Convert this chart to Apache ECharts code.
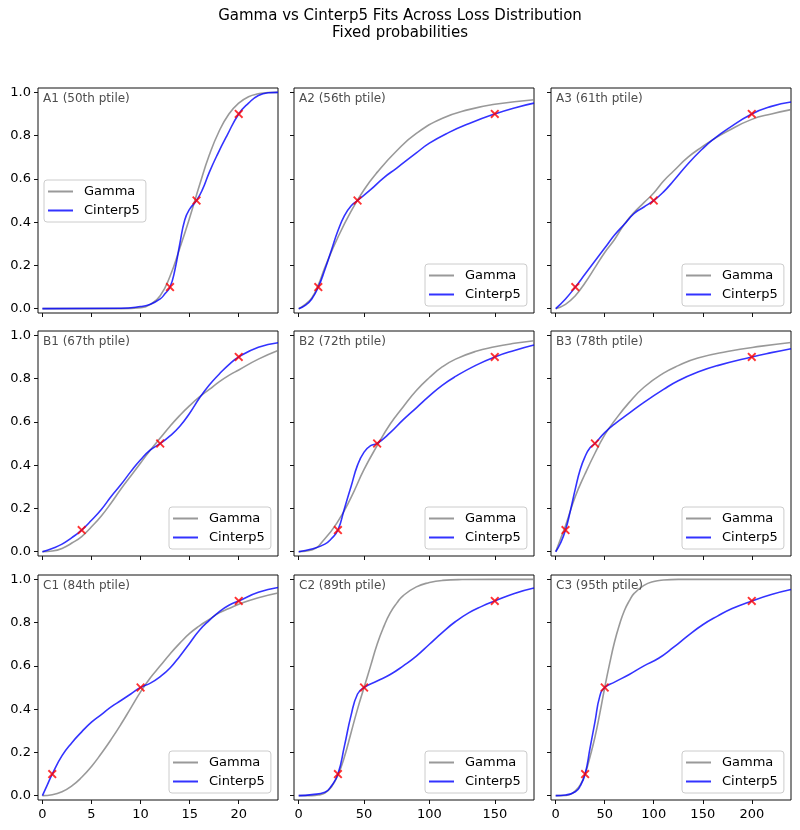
<!DOCTYPE html>
<html><head><meta charset="utf-8">
<script src="https://cdn.jsdelivr.net/npm/echarts@6/dist/echarts.min.js"></script>
<style>html,body{margin:0;padding:0;background:#fff}#c{width:800px;height:830px}</style>
</head><body><div id="c"></div>
<script>
// ---------- data ----------
const titleLines = ['Gamma vs Cinterp5 Fits Across Loss Distribution', 'Fixed probabilities'];
const panelLabels = ['A1 (50th ptile)','A2 (56th ptile)','A3 (61th ptile)',
                     'B1 (67th ptile)','B2 (72th ptile)','B3 (78th ptile)',
                     'C1 (84th ptile)','C2 (89th ptile)','C3 (95th ptile)'];
const seriesNames = ['Gamma', 'Cinterp5'];
const targetProbs = [0.1, 0.5, 0.9];

const markersA1 = [13, 15.7, 20];
const markersA2 = [15, 45, 150];
const markersA3 = [20, 100, 200];
const markersB1 = [4, 12, 20];
const markersB2 = [30, 60, 150];
const markersB3 = [10, 40, 200];
const markersC1 = [1, 10, 20];
const markersC2 = [30, 50, 150];
const markersC3 = [30, 50, 200];

const gammaA1 = [[0,0],[8,0],[10,0.005],[11,0.02],[12,0.06],[13,0.15],[14,0.28],[15,0.42],[16,0.57],[17,0.71],[18,0.82],[19,0.9],[20,0.95],[21,0.98],[22,0.993],[23,0.999],[24,1]];
const cinterpA1 = [[0,0],[8,0.002],[10,0.01],[11,0.02],[12,0.045],[12.5,0.07],[13,0.1],[13.5,0.18],[14,0.3],[14.5,0.41],[15,0.46],[15.7,0.5],[16.3,0.55],[17,0.63],[17.8,0.71],[18.8,0.8],[20,0.9],[21,0.95],[22,0.985],[23,0.998],[24,1]];

const gammaA2 = [[0,0],[5,0.02],[10,0.05],[15,0.11],[20,0.19],[30,0.33],[40,0.45],[50,0.55],[60,0.63],[75,0.73],[90,0.81],[110,0.88],[130,0.92],[150,0.945],[180,0.966]];
const cinterpA2 = [[0,0],[5,0.015],[10,0.045],[15,0.1],[20,0.18],[25,0.27],[30,0.36],[35,0.43],[40,0.475],[45,0.5],[55,0.55],[65,0.605],[75,0.65],[90,0.72],[100,0.765],[115,0.815],[130,0.855],[150,0.9],[165,0.928],[180,0.95]];

const gammaA3 = [[0,0],[10,0.02],[20,0.06],[30,0.12],[40,0.19],[50,0.26],[60,0.32],[70,0.39],[80,0.445],[90,0.49],[100,0.535],[110,0.59],[120,0.635],[135,0.7],[150,0.75],[160,0.78],[175,0.82],[200,0.875],[220,0.9],[240,0.92]];
const cinterpA3 = [[0,0],[10,0.045],[20,0.1],[30,0.16],[40,0.22],[50,0.28],[60,0.34],[70,0.39],[80,0.44],[90,0.47],[100,0.5],[110,0.54],[120,0.59],[135,0.67],[150,0.74],[160,0.78],[175,0.83],[200,0.9],[220,0.935],[240,0.955]];

const gammaB1 = [[0,0],[1,0.003],[2,0.015],[3,0.04],[4,0.07],[5,0.115],[6,0.165],[7,0.225],[8,0.29],[9,0.35],[10,0.41],[11,0.47],[12,0.525],[13,0.58],[14,0.63],[15,0.675],[16,0.715],[17,0.75],[18,0.785],[19,0.815],[20,0.84],[22,0.89],[24,0.93]];
const cinterpB1 = [[0,0],[1,0.015],[2,0.035],[3,0.065],[4,0.1],[5,0.145],[6,0.195],[7,0.255],[8,0.31],[9,0.37],[10,0.425],[11,0.47],[12,0.5],[13,0.535],[14,0.58],[15,0.64],[16,0.71],[17,0.77],[18,0.82],[19,0.865],[20,0.9],[22,0.945],[24,0.966]];

const gammaB2 = [[0,0],[10,0.008],[20,0.06],[30,0.14],[40,0.25],[50,0.38],[60,0.49],[70,0.59],[80,0.67],[90,0.745],[100,0.805],[110,0.855],[120,0.89],[135,0.925],[150,0.947],[165,0.963],[180,0.975]];
const cinterpB2 = [[0,0],[10,0.012],[20,0.035],[25,0.06],[30,0.1],[35,0.2],[40,0.3],[45,0.4],[50,0.46],[55,0.49],[60,0.5],[70,0.55],[80,0.61],[90,0.665],[100,0.72],[110,0.77],[120,0.81],[135,0.86],[150,0.9],[165,0.93],[180,0.955]];

const gammaB3 = [[0,0],[5,0.06],[10,0.12],[20,0.255],[30,0.36],[40,0.455],[50,0.54],[60,0.605],[75,0.69],[90,0.76],[110,0.825],[125,0.86],[145,0.895],[175,0.925],[210,0.95],[240,0.967]];
const cinterpB3 = [[0,0],[5,0.04],[10,0.1],[15,0.19],[20,0.29],[25,0.38],[30,0.44],[35,0.48],[40,0.5],[50,0.55],[60,0.59],[75,0.64],[90,0.69],[110,0.75],[125,0.79],[145,0.83],[165,0.86],[200,0.9],[220,0.92],[240,0.938]];

const gammaC1 = [[0,0],[1,0.004],[2,0.018],[3,0.045],[4,0.085],[5,0.135],[6,0.195],[7,0.26],[8,0.33],[9,0.405],[10,0.48],[11,0.545],[12,0.6],[13,0.655],[14,0.705],[15,0.75],[16,0.785],[17,0.815],[18,0.845],[19,0.865],[20,0.885],[22,0.915],[24,0.937]];
const cinterpC1 = [[0,0],[0.5,0.05],[1,0.1],[2,0.185],[3,0.245],[4,0.295],[5,0.34],[6,0.375],[7,0.41],[8,0.44],[9,0.47],[10,0.5],[11,0.52],[12,0.55],[13,0.59],[14,0.645],[15,0.705],[16,0.765],[17,0.81],[18,0.85],[19,0.88],[20,0.9],[22,0.94],[24,0.962]];

const gammaC2 = [[0,0],[10,0],[15,0.003],[20,0.012],[25,0.04],[30,0.095],[35,0.18],[40,0.29],[45,0.4],[50,0.5],[55,0.6],[60,0.7],[65,0.78],[70,0.845],[75,0.89],[80,0.925],[90,0.965],[100,0.985],[110,0.995],[125,0.999],[150,1],[180,1]];
const cinterpC2 = [[0,0],[10,0.005],[20,0.016],[25,0.045],[30,0.1],[35,0.23],[40,0.37],[45,0.47],[50,0.5],[60,0.53],[70,0.56],[80,0.6],[90,0.645],[100,0.7],[110,0.755],[120,0.805],[130,0.845],[140,0.875],[150,0.9],[165,0.935],[180,0.96]];

const gammaC3 = [[0,0],[10,0.001],[15,0.006],[20,0.022],[25,0.05],[30,0.1],[35,0.18],[40,0.27],[45,0.38],[50,0.5],[55,0.61],[60,0.71],[65,0.79],[70,0.855],[75,0.9],[80,0.935],[90,0.972],[100,0.99],[110,0.997],[125,1],[240,1]];
const cinterpC3 = [[0,0],[10,0.003],[20,0.018],[25,0.045],[30,0.1],[35,0.22],[40,0.34],[45,0.46],[50,0.5],[60,0.525],[75,0.56],[90,0.6],[105,0.635],[120,0.685],[135,0.74],[150,0.79],[165,0.83],[180,0.865],[200,0.9],[220,0.93],[240,0.953]];

const xTicksCol1 = [0, 5, 10, 15, 20];
const xTicksCol2 = [0, 50, 100, 150];
const xTicksCol3 = [0, 50, 100, 150, 200];
const yTicks = [0, 0.2, 0.4, 0.6, 0.8, 1.0];

// ---------- layout ----------
const panelGamma = [gammaA1, gammaA2, gammaA3, gammaB1, gammaB2, gammaB3, gammaC1, gammaC2, gammaC3];
const panelCinterp = [cinterpA1, cinterpA2, cinterpA3, cinterpB1, cinterpB2, cinterpB3, cinterpC1, cinterpC2, cinterpC3];
const panelMarkers = [markersA1, markersA2, markersA3, markersB1, markersB2, markersB3, markersC1, markersC2, markersC3];
const colTicks = [xTicksCol1, xTicksCol2, xTicksCol3];
const colRange = [[-0.45, 24], [-3.6, 180], [-4.8, 240]];
const colLeft = [38, 294, 551];
const rowTop = [88, 331, 575];
const W = 240, H = 225;

const FONT = 'DejaVu Sans';
const GRAY = 'rgba(128,128,128,0.8)';
const BLUE = 'rgba(0,0,255,0.8)';
const xPath = 'path://M0,1.5L1.5,0L5,3.5L8.5,0L10,1.5L6.5,5L10,8.5L8.5,10L5,6.5L1.5,10L0,8.5L3.5,5Z';

const grids = [], xAxes = [], yAxes = [], series = [], legends = [], graphics = [];

graphics.push({type:'text', x:400, y:16, style:{text:titleLines[0], align:'center', verticalAlign:'middle', font:'15px "DejaVu Sans"', fill:'#000'}});
graphics.push({type:'text', x:400, y:33, style:{text:titleLines[1], align:'center', verticalAlign:'middle', font:'15px "DejaVu Sans"', fill:'#000'}});

for (let i = 0; i < 9; i++) {
  const r = Math.floor(i / 3), c = i % 3;
  const left = colLeft[c], top = rowTop[r];
  grids.push({left:left, top:top, width:W, height:H, show:true, borderColor:'#111', borderWidth:1, backgroundColor:'#fff', containLabel:false});
  xAxes.push({
    type:'value', gridIndex:i, min:colRange[c][0], max:colRange[c][1],
    axisLine:{show:false, onZero:false}, splitLine:{show:false},
    axisTick:{show:true, length:4, lineStyle:{color:'#111', width:1}, customValues:colTicks[c]},
    axisLabel:{show:r === 2, customValues:colTicks[c], margin:8, fontFamily:FONT, fontSize:13, color:'#000', formatter:(v)=>String(Math.round(v))}
  });
  yAxes.push({
    type:'value', gridIndex:i, min:-0.02, max:1.02,
    axisLine:{show:false, onZero:false}, splitLine:{show:false},
    axisTick:{show:true, length:4, lineStyle:{color:'#111', width:1}, customValues:yTicks},
    axisLabel:{show:c === 0, customValues:yTicks, margin:7, fontFamily:FONT, fontSize:13, color:'#000', formatter:(v)=>v.toFixed(1)}
  });
  series.push({type:'line', name:seriesNames[0], xAxisIndex:i, yAxisIndex:i, data:panelGamma[i], showSymbol:false, symbol:'none',
    smooth:0.5, color:GRAY, lineStyle:{color:GRAY, width:1.6}, itemStyle:{color:GRAY}, z:2, silent:true});
  series.push({type:'line', name:seriesNames[1], xAxisIndex:i, yAxisIndex:i, data:panelCinterp[i], showSymbol:false, symbol:'none',
    smooth:0.5, color:BLUE, lineStyle:{color:BLUE, width:1.6}, itemStyle:{color:BLUE}, z:3, silent:true});
  series.push({type:'scatter', name:'targets', xAxisIndex:i, yAxisIndex:i,
    data:panelMarkers[i].map((x, k) => [x, targetProbs[k]]),
    symbol:xPath, symbolSize:9, itemStyle:{color:'#ff0000'}, z:5, silent:true});

  let lgLeft, lgTop;
  if (i === 0) { lgLeft = left + 6; lgTop = 180; }
  else { lgLeft = left + W - 7 - 102; lgTop = top + H - 7 - 42; }
  legends.push({
    left:lgLeft, top:lgTop, orient:'vertical', data:seriesNames.slice(), selectedMode:false,
    icon:'rect', itemWidth:25, itemHeight:2, itemGap:4,
    padding:[4,6,4,4], backgroundColor:'rgba(255,255,255,0.85)', borderColor:'#cccccc', borderWidth:1, borderRadius:3,
    textStyle:{fontFamily:FONT, fontSize:13, color:'#000', lineHeight:15, padding:[0,0,0,6]}
  });
  graphics.push({type:'text', left:left + 5, top:top + 5, z:100,
    style:{text:panelLabels[i], font:'12px "DejaVu Sans"', fill:'#4d4d4d'}});
}

const chart = echarts.init(document.getElementById('c'), null, {renderer:'canvas'});
chart.setOption({
  animation:false,
  backgroundColor:'#fff',
  grid:grids, xAxis:xAxes, yAxis:yAxes, series:series, legend:legends, graphic:graphics
});
</script></body></html>
